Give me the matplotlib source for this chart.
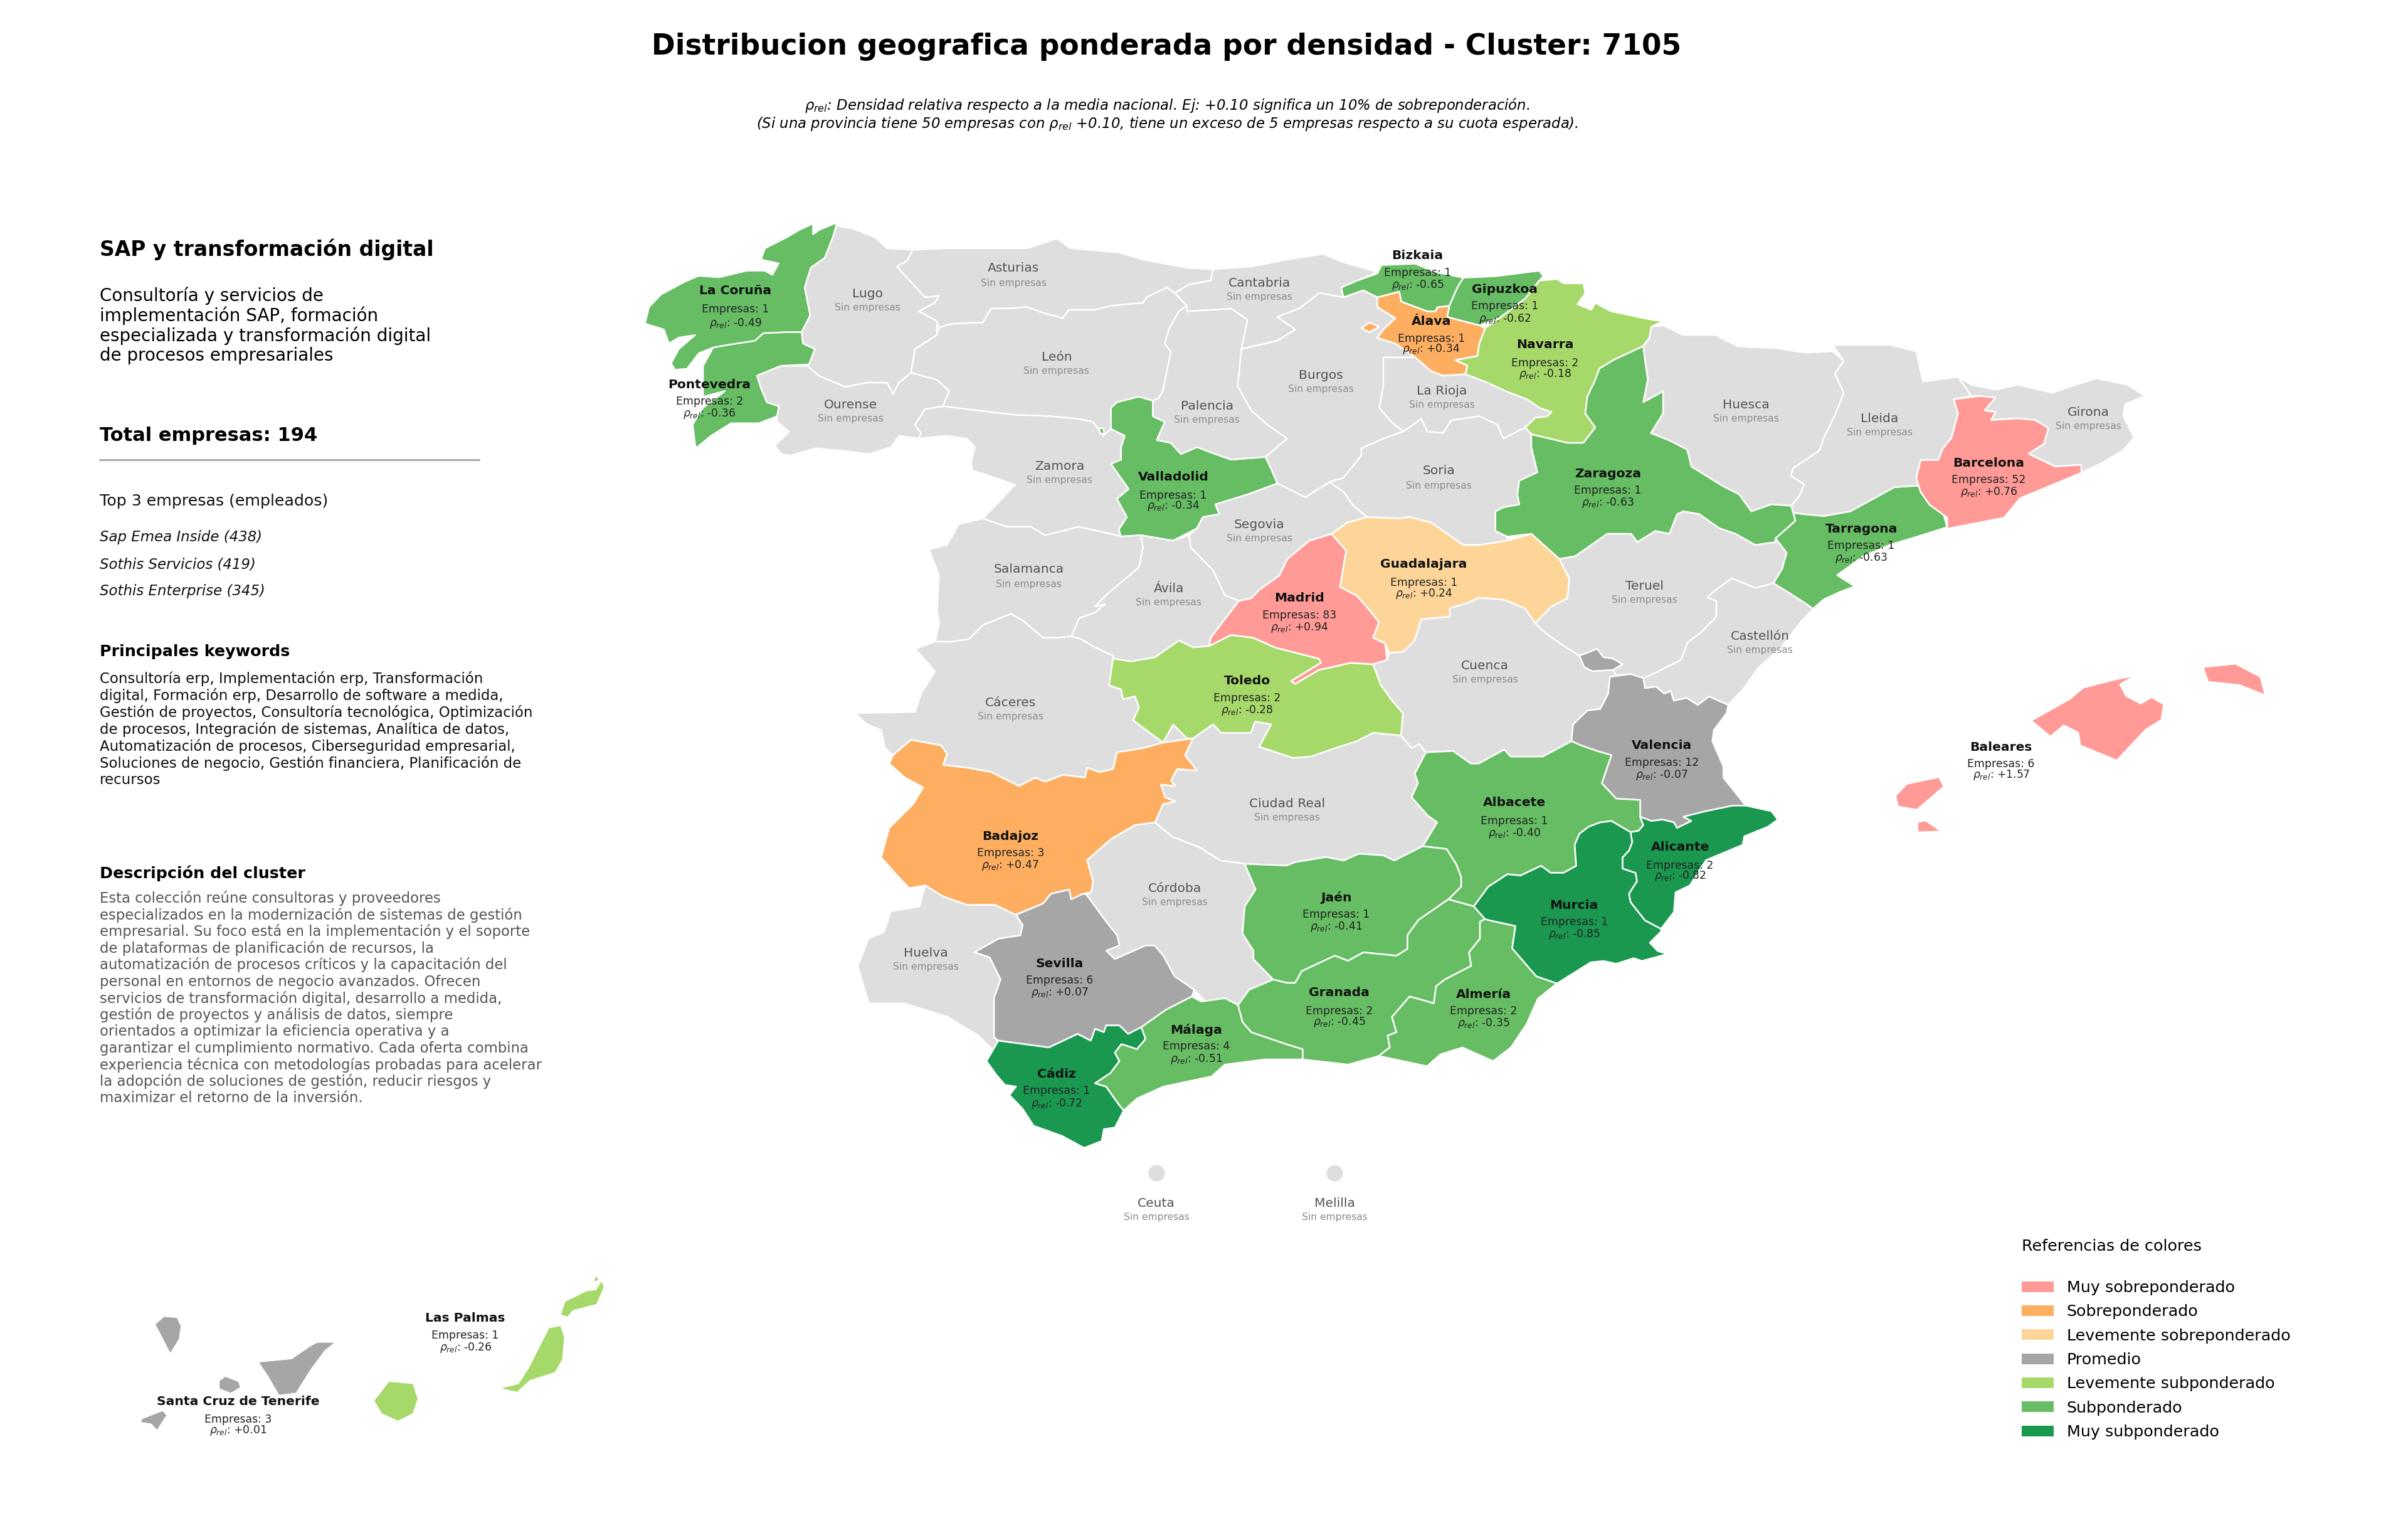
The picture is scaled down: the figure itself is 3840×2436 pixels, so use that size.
import matplotlib
matplotlib.use("Agg")
import matplotlib.pyplot as plt
from matplotlib.patches import Patch

W, H = 1568, 995
MAP_YLIM = (1365.4, -56)

BIN_COLORS = ['#ff9a96', '#fdae61', '#fed599', '#a6a6a6', '#a6d96a', '#66bd63', '#1a9850']
BIN_NAMES = ['Muy sobreponderado', 'Sobreponderado', 'Levemente sobreponderado', 'Promedio',
             'Levemente subponderado', 'Subponderado', 'Muy subponderado']
BIN_LOWER = [0.5, 0.3, 0.1, -0.1, -0.3, -0.7, -99]
NO_DATA = '#dedede'

EMPRESAS = {'La Coruña': 1, 'Pontevedra': 2, 'Valladolid': 1, 'Bizkaia': 1, 'Gipuzkoa': 1, 'Álava': 1,
            'Navarra': 2, 'Zaragoza': 1, 'Guadalajara': 1, 'Madrid': 83, 'Barcelona': 52, 'Tarragona': 1,
            'Baleares': 6, 'Toledo': 2, 'Badajoz': 3, 'Valencia': 12, 'Albacete': 1, 'Alicante': 2,
            'Murcia': 1, 'Jaén': 1, 'Granada': 2, 'Almería': 2, 'Málaga': 4, 'Sevilla': 6, 'Cádiz': 1,
            'Las Palmas': 1, 'Santa Cruz de Tenerife': 3}
RHO = {'La Coruña': -0.49, 'Pontevedra': -0.36, 'Valladolid': -0.34, 'Bizkaia': -0.65, 'Gipuzkoa': -0.62,
       'Álava': 0.34, 'Navarra': -0.18, 'Zaragoza': -0.63, 'Guadalajara': 0.24, 'Madrid': 0.94,
       'Barcelona': 0.76, 'Tarragona': -0.63, 'Baleares': 1.57, 'Toledo': -0.28, 'Badajoz': 0.47,
       'Valencia': -0.07, 'Albacete': -0.40, 'Alicante': -0.82, 'Murcia': -0.85, 'Jaén': -0.41,
       'Granada': -0.45, 'Almería': -0.35, 'Málaga': -0.51, 'Sevilla': 0.07, 'Cádiz': -0.72,
       'Las Palmas': -0.26, 'Santa Cruz de Tenerife': 0.01}

# label anchor: x, y of name, y of first value line, y of second value line
LABELS = {'La Coruña': (479, 189, 201, 210), 'Pontevedra': (462, 250, 261, 269), 'Valladolid': (764, 310, 322, 329),
          'Bizkaia': (923, 166, 177, 185), 'Gipuzkoa': (980, 188, 199, 207), 'Álava': (932, 209, 220, 227),
          'Navarra': (1006, 224, 236, 243), 'Zaragoza': (1047, 308, 319, 327), 'Guadalajara': (927, 367, 379, 386),
          'Madrid': (846, 389, 400, 408), 'Barcelona': (1295, 301, 312, 320), 'Tarragona': (1212, 344, 355, 363),
          'Baleares': (1303, 486, 497, 504), 'Toledo': (812, 443, 454, 462), 'Badajoz': (658, 544, 555, 563),
          'Valencia': (1082, 485, 496, 504), 'Albacete': (986, 522, 534, 542), 'Alicante': (1094, 551, 563, 570),
          'Murcia': (1025, 589, 600, 608), 'Jaén': (870, 584, 595, 603), 'Granada': (872, 646, 658, 665),
          'Almería': (966, 647, 658, 666), 'Málaga': (779, 670, 681, 689), 'Sevilla': (690, 627, 638, 646),
          'Cádiz': (688, 699, 710, 718), 'Las Palmas': (303, 858, 869, 877),
          'Santa Cruz de Tenerife': (155, 912, 924, 931)}
EMPTY_LABELS = {'Asturias': (660, 174, 184), 'Lugo': (565, 191, 200), 'Cantabria': (820, 184, 193),
                'Burgos': (860, 244, 253), 'León': (688, 232, 241), 'Palencia': (786, 264, 273),
                'Ourense': (554, 263, 272), 'La Rioja': (939, 254, 263), 'Huesca': (1137, 263, 272),
                'Lleida': (1224, 272, 281), 'Girona': (1360, 268, 277), 'Zamora': (690, 303, 312),
                'Soria': (937, 306, 316), 'Segovia': (820, 341, 350), 'Salamanca': (670, 370, 380),
                'Ávila': (761, 383, 392), 'Teruel': (1071, 381, 390), 'Castellón': (1146, 414, 423),
                'Cuenca': (967, 433, 442), 'Cáceres': (658, 457, 466), 'Ciudad Real': (838, 523, 532),
                'Córdoba': (765, 578, 587), 'Huelva': (603, 620, 629), 'Ceuta': (753, 783, 792),
                'Melilla': (869, 783, 792)}
CITY_DOTS = {'Ceuta': (753, 763.5), 'Melilla': (869, 763.5)}

OUTLINES = {
 'La Coruña': [[(545,151),(542.4,164.6),(537,184),(528,193),(524,211.4),(527.6,237.5),(522,253),(512.5,253),(497,254),(491.6,261),(473.4,265),(464.3,267.4),(455,272.6),(447.4,287),(439.5,288),(437,282),(442,268.7),(452.6,255.7),(442,258),(435.6,263.5),(432.3,250.5),(420,245),(422.6,229.7),(430.4,218),(446,206),(455,200.5),(468,202),(486.4,195.8),(498,195.8),(503,199.7),(507,189),(495.5,185.4),(498.1,175),(512.5,164.6),(520.3,158),(529.4,152),(529.4,162),(533.3,158)]],
 'Pontevedra': [[(522,253),(522.9,263.5),(530.7,268.7),(526.8,283),(508.6,284.3),(493,293.5),(495.5,305),(499.4,318.2),(507.3,322),(506,331.2),(494.2,337.7),(476,337.7),(463,349.4),(453,361),(451,339),(457.8,323.4),(472,307.8),(457.8,313),(457.8,284.3),(464.3,267.4),(473.4,265),(491.6,261),(497,254),(512.5,253)]],
 'Lugo': [[(545,154),(555.4,156.7),(569.7,164.6),(577.6,175),(594.5,176.3),(590.6,186.7),(584,191.9),(593.2,206.2),(602.3,220.5),(611.4,219.2),(608.8,225.7),(598.4,233.6),(610.1,242.7),(610.1,255.7),(595.8,268.7),(593.2,290.8),(585.4,300),(581.5,310.4),(577.6,300),(564.5,300),(550.2,303.9),(533.3,293.5),(525.5,284.3),(526.8,283),(530.7,268.7),(522.9,263.5),(522,253),(527.6,237.5),(524,211.4),(528,193),(537,184),(542.4,164.6)]],
 'Asturias': [[(594.5,176.3),(616.6,175),(642.7,175),(668.7,175),(688.2,165.9),(697.3,175),(728.6,178.9),(744.2,185.4),(772.9,193.2),(789.8,194.5),(788.5,204.9),(774,208.8),(765,216.6),(759.8,211.4),(746.8,220.5),(744.2,225.7),(723.4,228.4),(713,232.3),(696,232.3),(692.1,240),(679,234.9),(668.7,229.7),(655.7,231),(645.3,231),(640,244),(619.2,245.3),(611.4,249),(610.1,242.7),(598.4,233.6),(608.8,225.7),(611.4,219.2),(602.3,220.5),(593.2,206.2),(584,191.9),(590.6,186.7)]],
 'León': [[(611.4,249),(619.2,245.3),(640,244),(645.3,231),(655.7,231),(668.7,229.7),(679,234.9),(692.1,240),(696,232.3),(713,232.3),(723.4,228.4),(744.2,225.7),(746.8,220.5),(759.8,211.4),(765,216.6),(772.9,228.4),(767.6,233.6),(761.1,250.5),(758.5,263.5),(762.4,271.3),(759.8,289.5),(757.2,307.8),(754.6,314.3),(750.7,316.9),(741.6,313),(727.3,318.2),(723.4,323.4),(723.4,343),(718.2,349.4),(711.6,336.4),(702.5,333.8),(684.3,331.2),(660.9,329.9),(637.5,326),(614,322),(618,307.8),(610.1,297.4),(593.2,290.8),(595.8,268.7),(610.1,255.7)]],
 'Ourense': [[(493,293.5),(508.6,284.3),(525.5,284.3),(533.3,293.5),(550.2,303.9),(564.5,300),(577.6,300),(581.5,310.4),(585.4,300),(593.2,290.8),(610.1,297.4),(618,307.8),(614,322),(602.3,324.7),(595.8,339),(599.7,346.8),(598.4,352),(585.4,349.4),(580.2,359.9),(565.8,366.4),(551.5,363.8),(530.7,361.1),(515,367.7),(508.6,366.4),(504.6,358.5),(513.8,345.5),(506,336.4),(506,331.2),(507.3,322),(499.4,318.2),(495.5,305)]],
 'Zamora': [[(614,322),(637.5,326),(660.9,329.9),(684.3,331.2),(702.5,333.8),(711.6,336.4),(718.2,349.4),(723.4,343),(732.5,349.4),(730,359.9),(730,371.6),(723.4,375.5),(735,398.9),(727.3,408),(733.8,425),(728.6,436.7),(730,443),(718.2,439),(702.5,434),(680.4,442),(671.3,434),(655.7,434),(640,426.3),(661,395),(640,384.6),(633.5,382),(632.2,375.5),(634.8,359.9),(629.6,352),(616.6,349.4),(598.4,352),(599.7,346.8),(595.8,339),(602.3,324.7)]],
 'Valladolid': [[(723.4,323.4),(727.3,318.2),(741.6,313),(750.7,316.9),(750.7,331.2),(758.5,336.4),(753.3,353.3),(762.4,356),(769,366.4),(779.4,359.9),(791.4,366.4),(801.8,371.6),(824,369),(827.9,380.7),(831.8,393.7),(812.3,404),(791.4,413.2),(794,422.3),(783.3,425),(779.4,435.4),(763.8,447),(743,441.9),(730,443),(728.6,436.7),(733.8,425),(727.3,408),(735,398.9),(723.4,375.5),(730,371.6),(730,359.9),(732.5,349.4),(723.4,343)],
                [(715.5,342),(718.5,342.5),(719,348),(716.5,347)]],
 'Palencia': [[(772.9,228.4),(772.9,233.6),(801.8,231),(812.3,241.4),(808.4,268.7),(807,289.5),(805.7,302.6),(814.9,326),(825.3,339),(838.3,352),(824,369),(801.8,371.6),(791.4,366.4),(779.4,359.9),(769,366.4),(762.4,356),(753.3,353.3),(758.5,336.4),(750.7,331.2),(750.7,316.9),(754.6,314.3),(757.2,307.8),(759.8,289.5),(762.4,271.3),(758.5,263.5),(761.1,250.5),(767.6,233.6)]],
 'Cantabria': [[(789.8,194.5),(814.9,191.9),(838.3,185.4),(861.7,180.2),(874.8,188),(896.9,197),(883.9,205),(873.4,211.4),(874.8,220.5),(859.1,216.6),(846,231),(831.8,238.8),(843.5,250.5),(831.8,260.9),(808.4,268.7),(812.3,241.4),(801.8,231),(772.9,233.6),(772.9,228.4),(765,216.6),(774,208.8),(788.5,204.9)]],
 'Burgos': [[(808.4,268.7),(831.8,260.9),(843.5,250.5),(831.8,238.8),(846,231),(859.1,216.6),(874.8,220.5),(887.8,214),(896.9,220.5),(896.9,229.7),(908.6,240),(900.8,250.5),(896.9,258.3),(908.6,263.5),(921.6,276.5),(900.8,276.5),(900.8,302.6),(898.2,323.4),(906,336.4),(913.8,345.5),(900.8,352),(886.5,361.1),(886.5,367.7),(874.8,388.5),(865.6,392.4),(850,406.7),(831.8,393.7),(827.9,380.7),(824,369),(838.3,352),(825.3,339),(814.9,326),(805.7,302.6),(807,289.5)],
            [(919,263.5),(929.4,261),(937.2,266),(932,275.2),(920.3,274)]],
 'Álava': [[(896.9,220.5),(911.2,215.3),(912.5,224.5),(929.4,233.6),(934.6,233.6),(936,229.7),(943.8,228.4),(942.4,238.8),(963.3,246.6),(967.2,249.2),(963.3,263.5),(962,275.2),(947.7,279),(955.5,284),(954.2,292.1),(939.8,293.5),(932,289.5),(921.6,276.5),(908.6,263.5),(896.9,258.3),(900.8,250.5),(908.6,240),(896.9,229.7)],
           [(886.5,249.2),(891.7,244),(898.2,247.9),(891.7,253)]],
 'Bizkaia': [[(873.4,211.4),(883.9,205),(896.9,198.4),(899.5,190.6),(921.6,189.3),(934.6,197),(952.9,202.3),(949,211.4),(943.8,228.4),(936,229.7),(934.6,233.6),(929.4,233.6),(912.5,224.5),(911.2,215.3),(896.9,220.5),(887.8,214),(874.8,220.5)]],
 'Gipuzkoa': [[(952.9,202.3),(973.7,201),(1002.3,195.8),(1005,201),(1002.3,205),(993.2,221.8),(976.3,240),(963.3,246.6),(942.4,238.8),(943.8,228.4),(949,211.4)]],
 'Navarra': [[(967.2,249.2),(976.3,240),(993.2,221.8),(1002.3,205),(1014,203.6),(1018,207.5),(1031,207.5),(1032.3,216.6),(1027.1,227),(1036.2,232.3),(1038.8,225.7),(1049,233.6),(1075.3,241.4),(1083.1,242.7),(1075.3,247.9),(1074,258.3),(1070,266),(1050.5,279),(1041.4,287),(1038.8,297.4),(1033.6,313),(1032.3,328.6),(1038.8,341.6),(1031,356),(1020.6,356),(997.1,348),(993.2,341.6),(999.7,332.5),(1007.6,331.2),(1010.2,327.3),(1002.3,323.4),(994.5,315.6),(980.2,307.8),(968.5,300),(954.2,292.1),(955.5,284),(947.7,279),(962,275.2),(963.3,263.5)]],
 'La Rioja': [[(900.8,276.5),(921.6,276.5),(932,289.5),(939.8,293.5),(954.2,292.1),(968.5,300),(980.2,307.8),(994.5,315.6),(1002.3,323.4),(1010.2,327.3),(1007.6,331.2),(999.7,332.5),(993.2,341.6),(978.9,352),(975,339),(963.3,331.2),(945,335),(939.8,346.8),(929.4,345.5),(925.5,333.8),(913.8,345.5),(906,336.4),(898.2,323.4),(900.8,302.6)]],
 'Huesca': [[(1075.3,247.9),(1083,246.6),(1096,255.7),(1116.9,255.7),(1131.9,266.3),(1156.2,267.8),(1176.3,272.2),(1193.4,270.8),(1200.6,279.7),(1194.9,291.6),(1200.6,309.4),(1194.9,330.3),(1187.7,351.1),(1184.9,363),(1167.7,379.4),(1166.2,386.8),(1174.8,394.3),(1172,404.7),(1166.4,414.5),(1153.4,413.2),(1140.4,419.7),(1132.5,404),(1122,396.3),(1101.3,378),(1098.7,362.4),(1088.3,354.6),(1075,346.8),(1082.9,328.6),(1083,308),(1070,318.2),(1073,297),(1071.4,281.7),(1070,266),(1074,258.3)]],
 'Zaragoza': [[(1070,266),(1071.4,281.7),(1073,297),(1070,318.2),(1083,308),(1082.9,328.6),(1075,346.8),(1088.3,354.6),(1098.7,362.4),(1101.3,378),(1122,396.3),(1132.5,404),(1140.4,419.7),(1153.4,413.2),(1166.4,414.5),(1167.7,421),(1169.1,428.5),(1156.2,444.8),(1156,448.4),(1143,451),(1130,440.6),(1119.5,435.4),(1106.5,422.3),(1096.1,419.7),(1092.2,422.3),(1087,440.6),(1077.9,438),(1066.1,448.4),(1062.2,440.6),(1046.6,440.6),(1025.8,461.4),(1015.4,464),(997.1,440.6),(981.5,443.2),(973.7,438),(973.7,419.7),(979,415.8),(989.3,413.2),(988,404),(989.3,391.1),(1001,383.3),(999.7,375.5),(997.1,359.9),(997.1,348),(1020.6,356),(1031,356),(1038.8,341.6),(1032.3,328.6),(1033.6,313),(1038.8,297.4),(1041.4,287),(1050.5,279)]],
 'Soria': [[(913.8,345.5),(925.5,333.8),(929.4,345.5),(939.8,346.8),(945,335),(963.3,331.2),(975,339),(978.9,352),(993.2,341.6),(997.1,348),(997.1,359.9),(999.7,375.5),(1001,383.3),(989.3,391.1),(988,404),(989.3,413.2),(979,415.8),(973.7,419.7),(973.7,438),(981.5,443.2),(981.5,447),(963.3,451),(952.9,451),(942.4,440.6),(932,430.2),(917.7,425),(911.2,426.3),(890.4,425),(881.3,414.5),(874.8,401.5),(865.6,392.4),(874.8,388.5),(886.5,367.7),(886.5,361.1),(900.8,352)]],
 'Segovia': [[(831.8,393.7),(850,406.7),(865.6,392.4),(874.8,401.5),(881.3,414.5),(890.4,425),(877.4,430.2),(867,440.6),(852.6,447),(838.3,464),(833,479.6),(820,492.7),(814.9,500.5),(806.7,503),(797.6,497.9),(789.8,474.4),(775.5,453.6),(774.2,441.9),(779.4,435.4),(783.3,425),(794,422.3),(791.4,413.2),(812.3,404)]],
 'Ávila': [[(743,441.9),(763.8,447),(774.2,441.9),(775.5,453.6),(789.8,474.4),(797.6,497.9),(806.7,503),(788.5,537),(787.3,545),(776.9,546.3),(767.8,539.8),(752.1,555.4),(736.5,559.3),(724.8,556.7),(724.8,554),(713.1,546.3),(704,538.5),(697.5,535.9),(702.7,518.9),(713.1,513.7),(719.6,506),(713,508.3),(720.8,496.6),(741.6,471.8),(744.2,453.6)]],
 'Salamanca': [[(640,426.3),(655.7,434),(671.3,434),(680.4,442),(702.5,434),(718.2,439),(730,443),(743,441.9),(744.2,453.6),(741.6,471.8),(720.8,496.6),(713,508.3),(719.6,506),(713.1,513.7),(702.7,518.9),(697.5,535.9),(689.6,537.2),(679.2,537.2),(666.2,521.5),(658.4,515),(640.2,525.4),(631,538.5),(619.3,541),(609,541),(611.5,524.1),(610.2,511.1),(611.4,479.6),(604.9,454.9),(616.6,451),(624.4,431.5)]],
 'Cáceres': [[(609,541),(619.3,541),(631,538.5),(640.2,525.4),(658.4,515),(666.2,521.5),(679.2,537.2),(689.6,537.2),(697.5,535.9),(704,538.5),(713.1,546.3),(724.8,554),(724.8,556.7),(722.2,581.4),(730,585.3),(731.3,594.4),(739.1,591.8),(741.7,602.3),(737.8,614),(757.4,634.8),(744.3,640),(727.4,643.9),(724.8,659.5),(715.7,662.2),(707.9,658.2),(706.6,667.4),(692.2,664.8),(680.5,671.3),(674,667.4),(663.6,675.2),(645.4,662.2),(629.8,658.2),(614.1,655.6),(616.7,645.2),(612.8,637.4),(593.3,632.2),(586.8,640),(581.6,646.5),(576.4,640),(573.8,623.1),(564.7,617.9),(556.8,607.5),(595.9,606.2),(599.8,589.2),(608.9,568.4),(595.9,547.6)],
             [(757.4,634.8),(763.9,617.9),(773,630.9),(776.9,630.9),(771,634)]],
 'Badajoz': [[(593.3,632.2),(612.8,637.4),(616.7,645.2),(614.1,655.6),(629.8,658.2),(645.4,662.2),(663.6,675.2),(674,667.4),(680.5,671.3),(692.2,664.8),(706.6,667.4),(707.9,658.2),(715.7,662.2),(724.8,659.5),(727.4,643.9),(744.3,640),(757.4,634.8),(776.9,630.9),(771.7,646.5),(779.5,660.8),(766.5,659.5),(762.6,670),(765.2,675.2),(756,673.9),(758.7,685.6),(765.2,689.5),(757.4,692.1),(752.1,709),(739.1,711.6),(723.5,724.6),(707.9,744.2),(711.8,763.7),(710.5,774.1),(705.3,775.4),(697.5,780.6),(696.2,771.5),(684.4,775.4),(679.2,784.5),(661,795),(648,785.8),(629.8,785.8),(614.1,778),(602.4,767.6),(592,770.2),(584.2,758.5),(573.8,741.6),(579,714.2),(594.6,692.1),(601.1,676.5),(589.4,667.4),(579,654.3),(581.6,646.5),(586.8,640)]],
 'Toledo': [[(724.8,556.7),(736.5,559.3),(752.1,555.4),(767.8,539.8),(776.9,546.3),(787.3,545),(801.6,534.6),(816,537.2),(830.3,546.3),(858.9,556.7),(860.2,560.6),(840.7,577.5),(843.3,580.1),(858.9,567.1),(879.7,560.6),(894.1,561.9),(899.3,581.4),(905.8,594.4),(913.6,607.5),(912.3,628.3),(894.1,625.7),(883.6,633.5),(869.3,640),(853.7,647.8),(842,649.1),(819.9,638.7),(827.7,617.9),(817.2,615.3),(814.6,625.7),(795.1,625.7),(789.9,617.9),(776.9,630.9),(773,630.9),(763.9,617.9),(757.4,634.8),(737.8,614),(741.7,602.3),(739.1,591.8),(731.3,594.4),(730,585.3),(722.2,581.4)]],
 'Madrid': [[(867,440.6),(876.6,456.2),(872.6,490),(883.6,498.1),(891.5,511.1),(898,522.8),(894.1,537.2),(901.9,542.4),(903.2,558),(894.1,561.9),(879.7,560.6),(858.9,567.1),(843.3,580.1),(840.7,577.5),(860.2,560.6),(858.9,556.7),(830.3,546.3),(816,537.2),(801.6,534.6),(787.3,545),(788.5,537),(806.7,503),(814.9,500.5),(820,492.7),(833,479.6),(838.3,464),(852.6,447)]],
 'Guadalajara': [[(867,440.6),(877.4,430.2),(890.4,425),(911.2,426.3),(917.7,425),(932,430.2),(942.4,440.6),(952.9,451),(963.3,451),(981.5,447),(997.1,440.6),(1015.4,464),(1021.9,482.2),(1020.6,500.5),(1010.2,508.3),(999.7,523.9),(993,510),(979.5,502),(962.9,500),(956.6,504.6),(944.1,509.8),(944.1,517.6),(925.4,520.2),(921.2,539.8),(913.9,550.2),(904.5,551.5),(901.9,542.4),(894.1,537.2),(898,522.8),(891.5,511.1),(883.6,498.1),(872.6,490),(876.6,456.2)]],
 'Teruel': [[(1015.4,464),(1025.8,461.4),(1046.6,440.6),(1062.2,440.6),(1066.1,448.4),(1077.9,438),(1087,440.6),(1092.2,422.3),(1096.1,419.7),(1106.5,422.3),(1119.5,435.4),(1130,440.6),(1143,451),(1156,448.4),(1156.2,444.8),(1163.4,458.2),(1160.5,473.1),(1154.8,486.5),(1143.3,491),(1127.6,482),(1116.1,494),(1111.8,499.9),(1117.6,502.9),(1117.6,517.8),(1107.5,532.6),(1098.9,541.6),(1094.6,557.9),(1076,571.3),(1070.2,574.9),(1061.8,571),(1052.4,572.3),(1050.4,567.1),(1056.6,561.9),(1050.4,556.7),(1044.1,555.4),(1040,547.6),(1028.5,554),(1021.2,547.6),(1006.6,533.3),(999.7,523.9),(1010.2,508.3),(1020.6,500.5),(1021.9,482.2)]],
 'Cuenca': [[(999.7,523.9),(993,510),(979.5,502),(962.9,500),(956.6,504.6),(944.1,509.8),(944.1,517.6),(925.4,520.2),(921.2,539.8),(913.9,550.2),(904.5,551.5),(903.2,558),(894.1,561.9),(899.3,581.4),(905.8,594.4),(913.6,607.5),(912.3,628.3),(919.1,640),(924.3,636.1),(928.5,643.9),(946.2,642.6),(957.7,654.3),(962.9,654.3),(979.5,641.3),(983.7,647.8),(1004.5,647.8),(1023.3,633.5),(1024.3,617.9),(1033.7,604.9),(1042,603.6),(1047.2,589.2),(1048.3,573.6),(1052.4,572.3),(1050.4,567.1),(1036.8,568.4),(1031.6,564.5),(1028.5,554),(1021.2,547.6),(1006.6,533.3)]],
 'Valencia': [[(1048.3,573.6),(1061.8,571),(1070.2,574.9),(1071.2,584),(1078.5,582.7),(1083.7,589.2),(1087.9,586.6),(1090,595.7),(1098.3,593.1),(1105.6,599.7),(1112.8,591.8),(1125.4,599.7),(1124.3,607.5),(1116,623.1),(1115,633.5),(1122.2,656.9),(1122.2,667.4),(1129.5,680.4),(1136.8,693.4),(1128.5,693.4),(1110.8,698.6),(1096.2,703.8),(1101.4,707.7),(1092,714.2),(1090,709),(1082.6,706.4),(1075.4,707.7),(1068,703.8),(1068,688.2),(1052.4,686.9),(1043,672.6),(1049.3,646.5),(1040,642.6),(1029.5,637.4),(1023.3,633.5),(1024.3,617.9),(1033.7,604.9),(1042,603.6),(1047.2,589.2)],
              [(1028.5,554),(1040,547.6),(1044.1,555.4),(1050.4,556.7),(1056.6,561.9),(1050.4,567.1),(1036.8,568.4),(1031.6,564.5)]],
 'Castellón': [[(1125.4,599.7),(1112.8,591.8),(1105.6,599.7),(1098.3,593.1),(1090,595.7),(1087.9,586.6),(1083.7,589.2),(1078.5,582.7),(1071.2,584),(1070.2,574.9),(1076,571.3),(1094.6,557.9),(1098.9,541.6),(1107.5,532.6),(1117.6,517.8),(1117.6,502.9),(1111.8,499.9),(1116.1,494),(1127.6,482),(1143.3,491),(1154.8,486.5),(1163.4,494),(1176.3,505.9),(1180.6,510.3),(1172,523.7),(1159.1,547.5),(1144.8,565.4),(1136.2,583.2)]],
 'Tarragona': [[(1156.2,444.8),(1169.1,428.5),(1167.7,421),(1176.3,422.5),(1187.7,424),(1204.9,419.6),(1222.1,406.2),(1233.5,397.2),(1249.3,395.7),(1250.7,401.7),(1256.5,413.6),(1265,419.6),(1267.9,434.4),(1247.9,443.4),(1230.7,450.8),(1213.5,461.2),(1196.3,479),(1207.8,489.5),(1199.2,494),(1187.7,501.4),(1180.6,510.3),(1176.3,505.9),(1163.4,494),(1154.8,486.5),(1160.5,473.1),(1163.4,458.2)]],
 'Lleida': [[(1193.4,264.8),(1230.7,264.8),(1247.9,270.8),(1252.1,299),(1275,294.6),(1283.7,312.4),(1272.2,315.4),(1275,328.8),(1270.8,351.1),(1265,361.5),(1262.2,371.9),(1250.7,371.9),(1247.9,388.3),(1249.3,395.7),(1233.5,397.2),(1222.1,406.2),(1204.9,419.6),(1187.7,424),(1176.3,422.5),(1167.7,421),(1166.4,414.5),(1172,404.7),(1174.8,394.3),(1166.2,386.8),(1167.7,379.4),(1184.9,363),(1187.7,351.1),(1194.9,330.3),(1200.6,309.4),(1194.9,291.6),(1200.6,279.7)]],
 'Girona': [[(1275,294.6),(1283.7,302),(1299.4,306.5),(1313.7,302),(1336.6,309.4),(1348.1,303.5),(1365.3,296),(1385.3,302),(1396.8,312.4),(1383.9,319.9),(1382.5,330.3),(1389.6,351.1),(1382.5,363),(1368.2,374.9),(1355.3,383.8),(1355.3,376.4),(1338,377.9),(1320.9,366),(1330.9,357),(1333.8,342.2),(1325.2,334.7),(1313.7,333.2),(1296.5,334.7),(1299.4,327.3),(1292.3,325.8),(1299.4,313.9),(1289.4,312.4),(1283.7,312.4)]],
 'Barcelona': [[(1272.2,315.4),(1289.4,312.4),(1299.4,313.9),(1292.3,325.8),(1299.4,327.3),(1296.5,334.7),(1313.7,333.2),(1325.2,334.7),(1333.8,342.2),(1330.9,357),(1320.9,366),(1338,377.9),(1355.3,376.4),(1355.3,383.8),(1325.2,401.7),(1315.2,407.6),(1305.1,425.5),(1267.9,435.9),(1267.9,425.5),(1256.5,413.6),(1250.7,401.7),(1249.3,395.7),(1247.9,388.3),(1250.7,371.9),(1262.2,371.9),(1265,361.5),(1270.8,351.1),(1275,328.8)]],
 'Albacete': [[(928.5,643.9),(946.2,642.6),(957.7,654.3),(962.9,654.3),(979.5,641.3),(983.7,647.8),(1004.5,647.8),(1023.3,633.5),(1029.5,637.4),(1040,642.6),(1049.3,646.5),(1043,672.6),(1052.4,686.9),(1068,688.2),(1068,703.8),(1070.1,711.6),(1067,716.8),(1061.8,718.1),(1049.3,707.7),(1042,709),(1034.7,712.9),(1028.5,719.5),(1025.4,729.9),(1026.4,749.4),(1018.1,755.9),(1009.7,755.9),(1003.5,749.4),(990,758.5),(981.6,757.2),(969.1,768.9),(959.7,787.1),(943.1,780.6),(951.4,768.9),(951.4,759.8),(948.3,748.1),(942,733.8),(926.4,731.2),(935.8,709),(929.5,702.5),(919.1,685.6),(923.3,672.6),(921.2,663.5)]],
 'Ciudad Real': [[(776.9,630.9),(789.9,617.9),(795.1,625.7),(814.6,625.7),(817.2,615.3),(827.7,617.9),(819.9,638.7),(842,649.1),(853.7,647.8),(869.3,640),(883.6,633.5),(894.1,625.7),(912.3,628.3),(919.1,640),(924.3,636.1),(928.5,643.9),(921.2,663.5),(923.3,672.6),(919.1,685.6),(929.5,702.5),(935.8,709),(926.4,731.2),(907.9,744.5),(900.7,739.7),(884.9,738.2),(874.9,744.5),(863.5,741.3),(843.4,746),(837.7,749.2),(810.5,747.6),(794.7,744.5),(780.4,731.8),(763.2,722.3),(752.1,709),(757.4,692.1),(765.2,689.5),(758.7,685.6),(756,673.9),(765.2,675.2),(762.6,670),(766.5,659.5),(779.5,660.8),(771.7,646.5)]],
 'Córdoba': [[(752.1,709),(763.2,722.3),(780.4,731.8),(794.7,744.5),(810.5,747.6),(814.8,761.9),(817.6,771.4),(810.5,787.2),(809.1,812.5),(816.2,828.3),(816.2,836.2),(829.1,855.2),(813.4,864.7),(806.2,878.9),(797.6,872.6),(786.1,877.3),(777.6,864.7),(764.7,852),(757.5,833),(751.8,823.5),(746,823.5),(726,836.2),(720.3,828.3),(728.9,823.5),(727.4,814),(720.3,801.4),(707.4,776.1),(710.5,774.1),(711.8,763.7),(707.9,744.2),(723.5,724.6),(739.1,711.6)]],
 'Sevilla': [[(696.2,771.5),(684.4,775.4),(679.2,784.5),(661.6,795.1),(665.9,804.6),(664.4,814),(650.1,817.2),(634.4,829.9),(644.4,834.6),(651.5,855.2),(647.2,872.6),(647.2,909),(650.1,912.1),(683,918.4),(701.7,905.8),(710.3,912.1),(713.1,901),(718.8,904.2),(720.3,897.9),(728.9,897.9),(734.6,905.8),(743.2,899.5),(758.9,883.6),(776.1,871),(777.6,864.7),(764.7,852),(757.5,833),(751.8,823.5),(746,823.5),(726,836.2),(720.3,828.3),(728.9,823.5),(727.4,814),(720.3,801.4),(707.4,776.1),(705.3,775.4),(697.5,780.6)]],
 'Huelva': [[(602.4,767.6),(598.6,787.2),(580,791.9),(575.6,810.9),(565.6,817.2),(558.5,842.5),(565.6,877.3),(588.5,877.3),(617.2,890),(637.2,907.4),(647.2,921.6),(650.1,912.1),(647.2,909),(647.2,872.6),(651.5,855.2),(644.4,834.6),(634.4,829.9),(650.1,817.2),(664.4,814),(665.9,804.6),(661.6,795.1),(648,785.8),(629.8,785.8),(614.1,778)]],
 'Cádiz': [[(650.1,912.1),(683,918.4),(701.7,905.8),(710.3,912.1),(713.1,901),(718.8,904.2),(720.3,897.9),(728.9,897.9),(734.6,905.8),(743.2,899.5),(746,910.5),(740.3,920),(730.3,915.3),(726,923.2),(728.9,931.1),(723.1,942.2),(713.1,951.7),(720.3,954.8),(728.9,972.2),(731.7,977),(726,992.8),(718.8,994.4),(717.4,1005.4),(705.9,1011.8),(691.6,1000.7),(673,991.2),(665.9,975.4),(657.3,962.7),(661.6,954.8),(654.4,953.2),(648.7,943.7),(642.4,931.1)]],
 'Málaga': [[(743.2,899.5),(758.9,883.6),(776.1,871),(782.1,875.7),(797.6,872.6),(806.2,878.9),(809.1,894.7),(814.8,904.2),(837.7,915.3),(848.3,920),(848.3,929.5),(823.4,929.5),(797.6,934.3),(789,945.3),(757.5,954.8),(740.3,965.9),(731.7,977),(728.9,972.2),(720.3,954.8),(713.1,951.7),(723.1,942.2),(728.9,931.1),(726,923.2),(730.3,915.3),(740.3,920),(746,910.5)]],
 'Jaén': [[(810.5,747.6),(837.7,749.2),(843.4,746),(863.5,741.3),(874.9,744.5),(884.9,738.2),(900.7,739.7),(907.9,744.5),(926.4,731.2),(942,733.8),(948.3,748.1),(951.4,759.8),(951.4,768.9),(943.1,780.6),(923.6,799.8),(916.5,814),(916.5,826.7),(909.3,833),(887.8,829.9),(877.8,837.8),(869.2,833),(847.7,847.3),(843.4,858.3),(837.7,858.3),(829.1,855.2),(816.2,836.2),(816.2,828.3),(809.1,812.5),(810.5,787.2),(817.6,771.4),(814.8,761.9)]],
 'Granada': [[(806.2,878.9),(813.4,864.7),(829.1,855.2),(837.7,858.3),(843.4,858.3),(847.7,847.3),(869.2,833),(877.8,837.8),(887.8,829.9),(909.3,833),(916.5,826.7),(916.5,814),(923.6,799.8),(943.1,780.6),(959.7,787.1),(967,798.9),(963.7,801.4),(963.7,817.2),(956.6,829.9),(958,842.5),(940.8,855.2),(935.1,861.5),(933.7,877.3),(917.9,871),(906.4,890),(909.3,904.2),(903.6,907.4),(905,918.4),(897.8,926.3),(877.8,934.3),(848.3,929.5),(848.3,920),(837.7,915.3),(814.8,904.2),(809.1,894.7)]],
 'Almería': [[(963.7,801.4),(967,798.9),(970.2,800.2),(986.8,805.4),(984.7,826.2),(1000.4,852.2),(1013.9,858.8),(1001.4,873),(994.1,896.5),(983.8,918.4),(972.3,931.1),(952.3,918.4),(937.9,924.8),(929.3,935.8),(897.8,926.3),(905,918.4),(903.6,907.4),(909.3,904.2),(906.4,890),(917.9,871),(933.7,877.3),(935.1,861.5),(940.8,855.2),(958,842.5),(956.6,829.9),(963.7,817.2)]],
 'Murcia': [[(959.7,787.1),(969.1,768.9),(981.6,757.2),(990,758.5),(1003.5,749.4),(1009.7,755.9),(1018.1,755.9),(1026.4,749.4),(1025.4,729.9),(1028.5,719.5),(1034.7,712.9),(1042,709),(1049.3,707.7),(1061.8,718.1),(1062.9,727.3),(1060.8,735.1),(1056.6,741.6),(1056.6,752),(1065,755.9),(1066,763.7),(1060.8,775.4),(1061.8,783.2),(1071.2,800.2),(1081.6,808),(1081.6,810.6),(1074.3,821),(1079.5,828.8),(1085.8,831.4),(1069.1,837.9),(1063.9,835.3),(1052.4,840.5),(1044.1,837.9),(1035.8,839.2),(1013.9,858.8),(1000.4,852.2),(984.7,826.2),(986.8,805.4),(970.2,800.2),(967,798.9)]],
 'Alicante': [[(1061.8,718.1),(1067,716.8),(1070.1,711.6),(1068,703.8),(1075.4,707.7),(1082.6,706.4),(1090,709),(1092,714.2),(1101.4,707.7),(1096.2,703.8),(1110.8,698.6),(1128.5,693.4),(1136.8,693.4),(1153.5,698.6),(1157.6,706.4),(1151.4,712.9),(1135.8,722),(1134.7,729.9),(1110.8,744.2),(1100.4,767.6),(1091,774.1),(1090,792.4),(1081.6,808),(1071.2,800.2),(1061.8,783.2),(1060.8,775.4),(1066,763.7),(1065,755.9),(1056.6,752),(1056.6,741.6),(1060.8,735.1),(1062.9,727.3)]],
 'Baleares': [[(1323.8,614.5),(1348.1,595.1),(1356.7,584.7),(1376.7,577.3),(1386.8,574.3),(1379.6,580.3),(1383.9,592.1),(1393.9,599.6),(1401.1,593.7),(1408.2,599.6),(1406.8,613),(1396.8,621.9),(1378.2,650.2),(1355.3,636.8),(1353.8,624.9),(1343.8,617.5),(1335.2,627.9)],
              [(1435.4,565.4),(1455.5,562.4),(1471.3,574.3),(1474.1,589.2),(1458.4,580.3),(1438.3,577.3)],
              [(1242.1,674),(1262.2,668),(1265,675.5),(1247.9,696.3),(1236.4,693.3),(1235,684.4)],
              [(1249.3,709.7),(1253.6,708.2),(1262.2,716.5),(1249.3,717.2)]],
 'Santa Cruz de Tenerife': [[(106.9,1169.3),(115.1,1170.2),(117.5,1177.9),(116.3,1189.4),(110.9,1201.9),(101.5,1176)],
              [(169,1211.5),(190.1,1208.6),(201.8,1197.1),(206.5,1193.3),(217.1,1193.3),(211.2,1200),(201.8,1218.2),(192.5,1239.3),(181.9,1241.3),(174.9,1224)],
              [(146.8,1225),(155,1229.7),(156.1,1234.5),(150.3,1239.3),(143.2,1235.5),(143.2,1228.8)],
              [(105.7,1257),(108.1,1260.5),(102.2,1273.5),(98.7,1268.1),(92.1,1266.6),(92.8,1264.3)]],
 'Las Palmas': [[(253.4,1229.7),(268.6,1231.7),(271.7,1245.1),(268.6,1258.5),(259.3,1265.3),(248.7,1258.5),(244,1247)],
              [(357.7,1179.8),(364.8,1177.9),(367.1,1187.5),(365.9,1208.6),(361.2,1220.1),(344.8,1227.8),(336.6,1238.4),(327.2,1235.5),(337.8,1231.7),(344.8,1216.3),(349.5,1202.9)],
              [(368.3,1154.9),(382.3,1145.3),(388.2,1144.3),(391.7,1136.6),(392.9,1141.4),(388.2,1156.8),(373,1162.5),(369.4,1168.3),(365.5,1166.8)],
              [(388.2,1131.8),(389.4,1134.7),(387,1135.3)]],
}

TITLE = 'Distribucion geografica ponderada por densidad - Cluster: 7105'
NOTE_1 = r'$\rho_{rel}$: Densidad relativa respecto a la media nacional. Ej: +0.10 significa un 10% de sobreponderación.'
NOTE_2 = r'(Si una provincia tiene 50 empresas con $\rho_{rel}$ +0.10, tiene un exceso de 5 empresas respecto a su cuota esperada).'
PANEL_TITLE = 'SAP y transformación digital'
PANEL_SUB = ['Consultoría y servicios de', 'implementación SAP, formación',
             'especializada y transformación digital', 'de procesos empresariales']
TOTAL = 194
TOP_COMPANIES = [('Sap Emea Inside', 438), ('Sothis Servicios', 419), ('Sothis Enterprise', 345)]
KEYWORDS = ['Consultoría erp, Implementación erp, Transformación',
            'digital, Formación erp, Desarrollo de software a medida,',
            'Gestión de proyectos, Consultoría tecnológica, Optimización',
            'de procesos, Integración de sistemas, Analítica de datos,',
            'Automatización de procesos, Ciberseguridad empresarial,',
            'Soluciones de negocio, Gestión financiera, Planificación de',
            'recursos']
DESCRIPTION = ['Esta colección reúne consultoras y proveedores',
               'especializados en la modernización de sistemas de gestión',
               'empresarial. Su foco está en la implementación y el soporte',
               'de plataformas de planificación de recursos, la',
               'automatización de procesos críticos y la capacitación del',
               'personal en entornos de negocio avanzados. Ofrecen',
               'servicios de transformación digital, desarrollo a medida,',
               'gestión de proyectos y análisis de datos, siempre',
               'orientados a optimizar la eficiencia operativa y a',
               'garantizar el cumplimiento normativo. Cada oferta combina',
               'experiencia técnica con metodologías probadas para acelerar',
               'la adopción de soluciones de gestión, reducir riesgos y',
               'maximizar el retorno de la inversión.']


def colour_for(name):
    if name not in RHO:
        return NO_DATA
    for low, col in zip(BIN_LOWER, BIN_COLORS):
        if RHO[name] >= low:
            return col
    return BIN_COLORS[-1]


fig = plt.figure(figsize=(19.2, 12.18), dpi=200, facecolor='white')
ax = fig.add_axes([0, 0, 1, 1])
ax.set_xlim(0, W)
ax.set_ylim(*MAP_YLIM)
ax.axis('off')

for name, parts in OUTLINES.items():
    col = colour_for(name)
    islands = name in ('Baleares', 'Santa Cruz de Tenerife', 'Las Palmas')
    for part in parts:
        xs, ys = zip(*part)
        ax.fill(xs, ys, facecolor=col, edgecolor=col if islands else 'white',
                linewidth=0.3 if islands else 0.9, joinstyle='round')

tx = fig.add_axes([0, 0, 1, 1], facecolor='none')
tx.set_xlim(0, W)
tx.set_ylim(H - 0.5, -0.5)
tx.axis('off')

# Ceuta and Melilla markers
for name, (x, y) in CITY_DOTS.items():
    tx.scatter([x], [y], s=88, color=NO_DATA, linewidths=0)

for name, (x, y0, y1, y2) in LABELS.items():
    tx.text(x, y0, name, ha='center', va='center', fontsize=7.3, fontweight='bold', color='#111111')
    tx.text(x, y1, f'Empresas: {EMPRESAS[name]}', ha='center', va='center', fontsize=6.2, color='#222222')
    tx.text(x, y2, rf'$\rho_{{rel}}$: {RHO[name]:+.2f}', ha='center', va='center', fontsize=6.2, color='#222222')
for name, (x, y0, y1) in EMPTY_LABELS.items():
    tx.text(x, y0, name, ha='center', va='center', fontsize=7.3, color='#555555')
    tx.text(x, y1, 'Sin empresas', ha='center', va='center', fontsize=5.6, color='#8c8c8c')

tx.text(759.5, 30, TITLE, ha='center', va='center', fontsize=16.4, fontweight='bold', color='black')
tx.text(760, 68, NOTE_1, ha='center', va='center', fontsize=8.2, style='italic', color='black')
tx.text(760, 80, NOTE_2, ha='center', va='center', fontsize=8.2, style='italic', color='black')

LEFT = 65
tx.text(LEFT, 162, PANEL_TITLE, va='center', fontsize=11.9, fontweight='bold', color='black')
for y, line in zip([192, 205, 218, 231], PANEL_SUB):
    tx.text(LEFT, y, line, va='center', fontsize=10.0, color='black')
tx.text(LEFT, 283, f'Total empresas: {TOTAL}', va='center', fontsize=11.0, fontweight='bold', color='black')
tx.plot([LEFT, 312], [299, 299], color='#999999', lw=0.9)
tx.text(LEFT, 326, 'Top 3 empresas (empleados)', va='center', fontsize=9.1, color='#111111')
for y, (co, n) in zip([349.5, 367, 384.5], TOP_COMPANIES):
    tx.text(LEFT, y, f'{co} ({n})', va='center', fontsize=8.25, style='italic', color='#111111')
tx.text(LEFT, 424, 'Principales keywords', va='center', fontsize=9.15, fontweight='bold', color='black')
for i, line in enumerate(KEYWORDS):
    tx.text(LEFT, 441.5 + i * 11.0, line, va='center', fontsize=8.25, color='#111111')
tx.text(LEFT, 568, 'Descripción del cluster', va='center', fontsize=9.15, fontweight='bold', color='black')
for i, line in enumerate(DESCRIPTION):
    tx.text(LEFT, 584.5 + i * 10.85, line, va='center', fontsize=8.2, color='#555555')

handles = [Patch(facecolor=c, edgecolor='none', label=n) for c, n in zip(BIN_COLORS, BIN_NAMES)]
leg = tx.legend(handles=handles, title='Referencias de colores\n', loc='upper left',
                bbox_to_anchor=(1312.5 / W, 1 - 802.5 / H), frameon=False, fontsize=9.15,
                title_fontsize=9.15, alignment='left', labelspacing=0.565, handlelength=2.0,
                handleheight=0.65, handletextpad=0.8, borderpad=0.4, borderaxespad=0)

fig.savefig('out.png', dpi=200, facecolor='white')
